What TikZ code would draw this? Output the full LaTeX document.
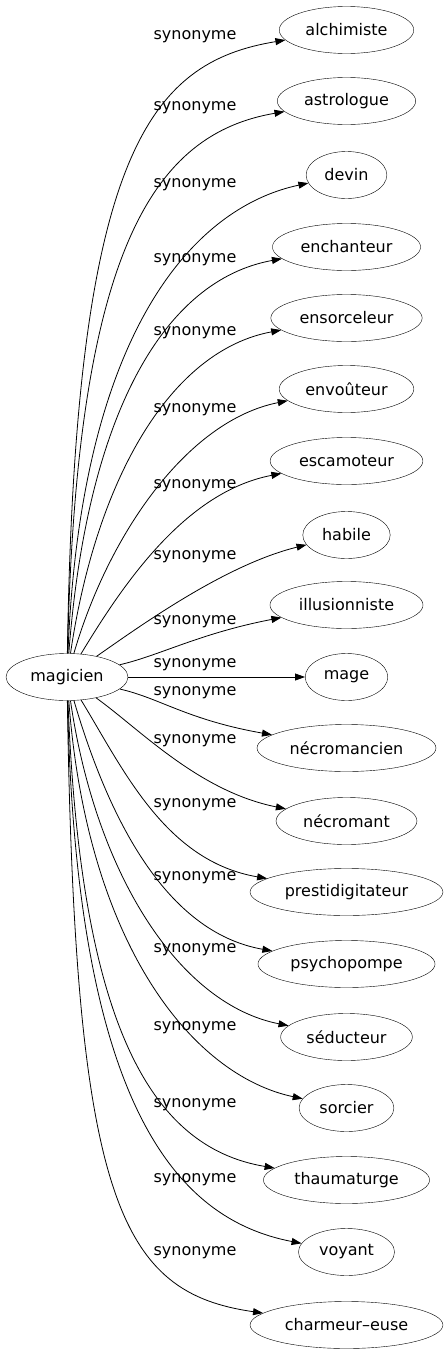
\documentclass[tikz,border=0pt]{standalone}
\usepackage{fontspec}
\setmainfont{DejaVu Sans}
\usetikzlibrary{positioning,shapes.geometric,arrows.meta,calc}
\tikzset{
  term/.style={draw, ellipse, inner xsep=6.5pt, inner ysep=2pt, minimum height=47pt},
  rel/.style={inner sep=1pt},
  syn/.style={-{Triangle[length=10pt,width=7pt]}, line width=0.8pt}
}

\begin{document}
\begin{tikzpicture}[x=1pt, y=-1pt, font=\fontsize{16}{19}\selectfont]
  \useasboundingbox (0,0) rectangle (445,1355);
  \node[term] (magicien) at (67,677) {magicien};

  \node[term] (alchimiste) at (346.5,30) {alchimiste};
  \node[term] (astrologue) at (346.5,101) {astrologue};
  \node[term] (devin) at (346.5,175) {devin};
  \node[term] (enchanteur) at (346.5,247) {enchanteur};
  \node[term] (ensorceleur) at (346.5,318) {ensorceleur};
  \node[term] (envouteur) at (346.5,389) {envoûteur};
  \node[term] (escamoteur) at (346.5,461) {escamoteur};
  \node[term] (habile) at (346.5,535) {habile};
  \node[term] (illusionniste) at (346.5,605) {illusionniste};
  \node[term] (mage) at (346.5,677) {mage};
  \node[term] (necromancien) at (346.5,748) {nécromancien};
  \node[term] (necromant) at (346.5,821) {nécromant};
  \node[term] (prestidigitateur) at (346.5,892) {prestidigitateur};
  \node[term] (psychopompe) at (346.5,964) {psychopompe};
  \node[term] (seducteur) at (346.5,1037) {séducteur};
  \node[term] (sorcier) at (346.5,1108) {sorcier};
  \node[term] (thaumaturge) at (346.5,1180) {thaumaturge};
  \node[term] (voyant) at (346.5,1252) {voyant};
  \node[term] (charmeur) at (346.5,1325) {charmeur–euse};

  % straight one in the middle
  \draw[syn] (magicien) -- (mage);
  \node[rel] (l-mage) at (195,665) {synonyme};

  % curved ones, bent more the farther they go
  \foreach \nm/\yy/\ly in {alchimiste/30/37, astrologue/101/108, devin/175/185,
      enchanteur/247/260, ensorceleur/318/333, envouteur/389/410,
      escamoteur/461/486, habile/535/557, illusionniste/605/622,
      necromancien/748/693, necromant/821/741, prestidigitateur/892/805,
      psychopompe/964/878, seducteur/1037/950, sorcier/1108/1028,
      thaumaturge/1180/1105, voyant/1252/1180, charmeur/1325/1253} {
    \pgfmathsetmacro\edy{\yy-677}
    \pgfmathsetmacro\eab{abs(\edy)}
    \pgfmathsetmacro\esg{sign(\edy)}
    \pgfmathsetmacro\erat{(\eab-72)/576}
    \pgfmathsetmacro\epx{8+85*(1-\erat)^2}
    \pgfmathsetmacro\eqy{\esg*\eab*(0.3+0.51*\erat)}
    \pgfmathsetmacro\egx{70+60*\erat}
    \pgfmathsetmacro\ehy{-\esg*\egx*tan(14+8*(1-\erat))}
    \draw[syn] (magicien) .. controls (67+\epx, 677+\eqy)
      and ($(\nm.west)+(-\egx,\ehy)$) .. (\nm);
    \node[rel] (l-\nm) at (195,\ly) {synonyme};
  }
\end{tikzpicture}
\end{document}
